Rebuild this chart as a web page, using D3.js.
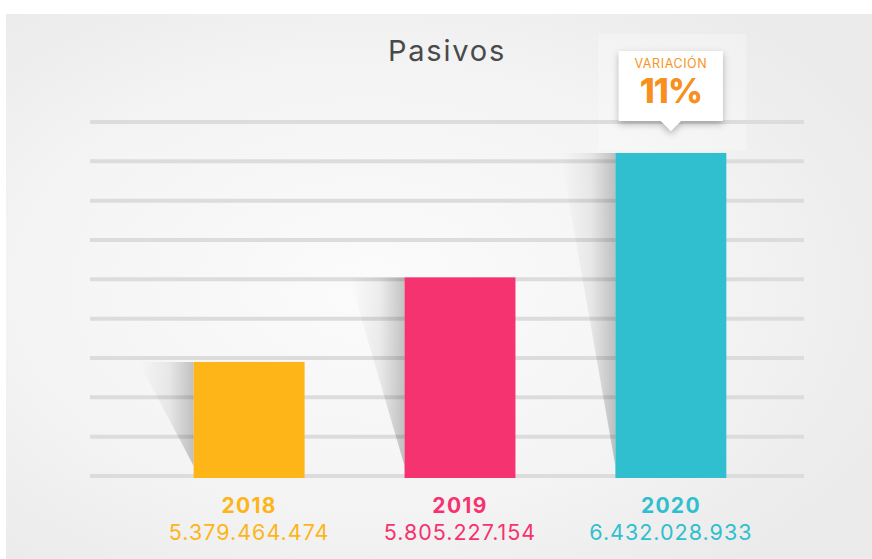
<!DOCTYPE html>
<html>
<head>
<meta charset="utf-8">
<script src="https://cdn.jsdelivr.net/npm/d3@7"></script>
<style>
  body { margin: 0; background: #ffffff; }
  svg { display: block; font-family: "Inter", "Open Sans", sans-serif; }
</style>
</head>
<body>
<script>
// Chart data
var years = ["2018", "2019", "2020"];
var values = [5379464474, 5805227154, 6432028933];
var valueLabels = ["5.379.464.474", "5.805.227.154", "6.432.028.933"];
var colors = ["#fdb518", "#f53370", "#2fbfcf"];
var title = "Pasivos";
var badgeTitle = "VARIACIÓN";
var badgeValue = "11%";
// value axis: bottom of scale and gridline step (no tick labels shown)
var yStart = 4805000000;
var yStep = 198100000;
var gridCount = 10;

var width = 872, height = 559;

var svg = d3.select("body").append("svg")
    .attr("width", width)
    .attr("height", height);

var defs = svg.append("defs");

// Background panel with soft light
var bg = defs.append("radialGradient").attr("id", "bgGrad")
    .attr("cx", "0.42").attr("cy", "0.5").attr("r", "0.65");
bg.append("stop").attr("offset", "0").attr("stop-color", "#fbfbfb");
bg.append("stop").attr("offset", "0.6").attr("stop-color", "#f4f4f4");
bg.append("stop").attr("offset", "1").attr("stop-color", "#ebebeb");

var sh = defs.append("linearGradient").attr("id", "barShadow")
    .attr("x1", "0").attr("x2", "1").attr("y1", "0").attr("y2", "0");
sh.append("stop").attr("offset", "0").attr("stop-color", "#000").attr("stop-opacity", 0);
sh.append("stop").attr("offset", "0.55").attr("stop-color", "#000").attr("stop-opacity", 0.06);
sh.append("stop").attr("offset", "1").attr("stop-color", "#000").attr("stop-opacity", 0.22);

var drop = defs.append("filter").attr("id", "drop")
    .attr("x", "-30%").attr("y", "-30%").attr("width", "160%").attr("height", "170%");
drop.append("feDropShadow").attr("dx", 0).attr("dy", 3).attr("stdDeviation", 3.5)
    .attr("flood-color", "#000").attr("flood-opacity", 0.28);

svg.append("rect")
    .attr("x", 6).attr("y", 14)
    .attr("width", width - 6).attr("height", height - 14)
    .attr("fill", "url(#bgGrad)");

// Scales
var y = d3.scaleLinear()
    .domain([yStart, yStart + yStep * (gridCount - 1)])
    .range([476, 122]);

var x = d3.scaleBand()
    .domain(years)
    .range([103, 817])
    .paddingInner(0.474)
    .paddingOuter(0.43);

// light panel behind the badge
var last = years.length - 1;
svg.append("rect")
    .attr("x", x(years[last]) - 17)
    .attr("y", 34)
    .attr("width", x.bandwidth() + 37)
    .attr("height", y(values[last]) - 37)
    .attr("fill", "#ffffff")
    .attr("opacity", 0.28);

// Gridlines
var gridVals = d3.range(gridCount).map(function(i) { return yStart + i * yStep; });
svg.append("g")
    .selectAll("line")
    .data(gridVals)
    .enter()
    .append("line")
    .attr("x1", 90).attr("x2", 804)
    .attr("y1", function(d) { return y(d); })
    .attr("y2", function(d) { return y(d); })
    .attr("stroke", "#dcdcdc")
    .attr("stroke-width", 4);

// Bar shadows (tapered, to the left of each bar)
svg.append("g")
    .selectAll("path")
    .data(values)
    .enter()
    .append("path")
    .attr("d", function(d, i) {
      var x0 = x(years[i]), top = y(d), bottom = y(yStart);
      return "M" + (x0 - 55) + "," + top + "L" + x0 + "," + top +
             "L" + x0 + "," + (bottom - 10) + "Z";
    })
    .attr("fill", "url(#barShadow)");

// Bars
svg.append("g")
    .selectAll("rect")
    .data(values)
    .enter()
    .append("rect")
    .attr("x", function(d, i) { return x(years[i]); })
    .attr("y", function(d) { return y(d); })
    .attr("width", x.bandwidth())
    .attr("height", function(d) { return y(yStart) - y(d) + 2; })
    .attr("fill", function(d, i) { return colors[i]; });

// Title
svg.append("text")
    .attr("x", 447).attr("y", 61)
    .attr("text-anchor", "middle")
    .attr("font-size", 29)
    .attr("letter-spacing", 1.8)
    .attr("fill", "#4a4a4a")
    .text(title);

// Year and value labels
var labels = svg.append("g").selectAll("g")
    .data(years)
    .enter()
    .append("g")
    .attr("transform", function(d) { return "translate(" + (x(d) + x.bandwidth() / 2) + ",0)"; });

labels.append("text")
    .attr("y", 513)
    .attr("text-anchor", "middle")
    .attr("font-size", 21)
    .attr("font-weight", 700)
    .attr("letter-spacing", 1.3)
    .attr("fill", function(d, i) { return colors[i]; })
    .text(function(d) { return d; });

labels.append("text")
    .attr("y", 540)
    .attr("text-anchor", "middle")
    .attr("font-size", 21.5)
    .attr("letter-spacing", 1)
    .attr("fill", function(d, i) { return colors[i]; })
    .text(function(d, i) { return valueLabels[i]; });

// Variation badge above the last bar
var cx = x(years[last]) + x.bandwidth() / 2;
var tip = y(values[last]) - 22;
var bw = 104, bh = 70, ah = 10;
var badge = svg.append("g");
badge.append("path")
    .attr("d", "M" + (cx - bw / 2) + "," + (tip - ah - bh) +
               "h" + bw + "v" + bh +
               "H" + (cx + ah) + "L" + cx + "," + tip + "L" + (cx - ah) + "," + (tip - ah) +
               "H" + (cx - bw / 2) + "Z")
    .attr("fill", "#ffffff")
    .attr("filter", "url(#drop)");
badge.append("text")
    .attr("x", cx).attr("y", tip - ah - bh + 17)
    .attr("text-anchor", "middle")
    .attr("font-size", 12.5)
    .attr("letter-spacing", 0.6)
    .attr("fill", "#f7941d")
    .text(badgeTitle);
badge.append("text")
    .attr("x", cx).attr("y", tip - ah - bh + 52)
    .attr("text-anchor", "middle")
    .attr("font-size", 34)
    .attr("font-weight", 800)
    .attr("letter-spacing", -1)
    .attr("fill", "#f7901e")
    .text(badgeValue);
</script>
</body>
</html>
